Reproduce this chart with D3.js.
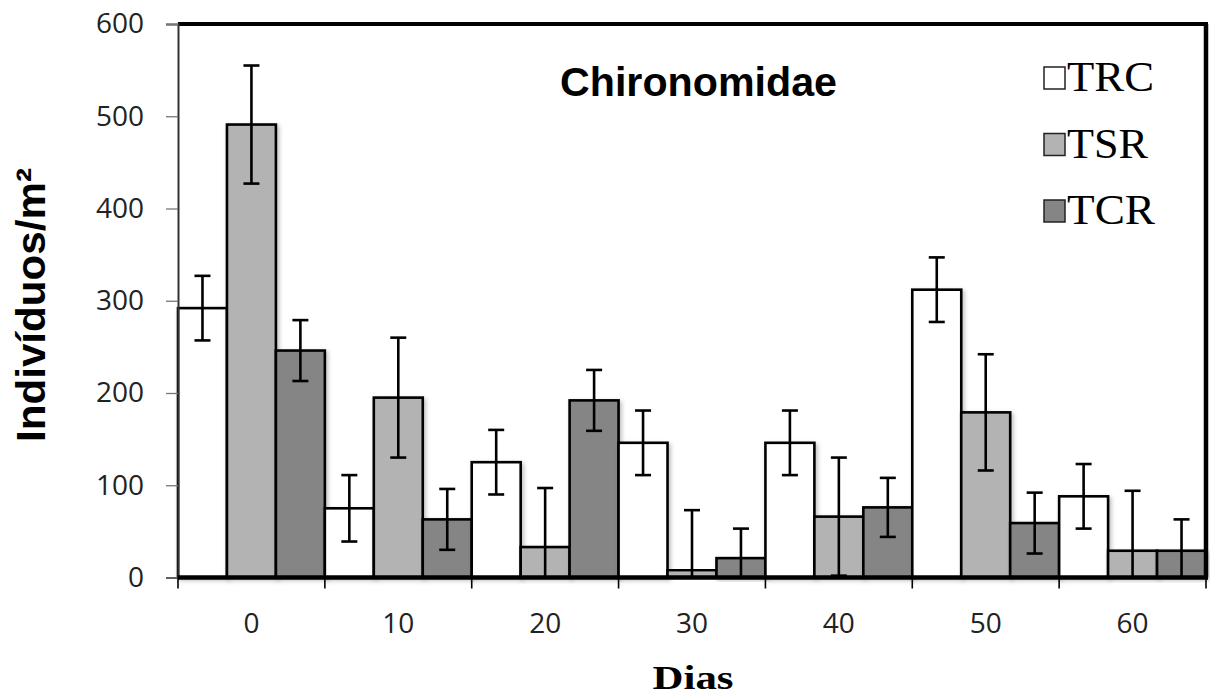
<!DOCTYPE html>
<html>
<head>
<meta charset="utf-8">
<script src="https://cdn.jsdelivr.net/npm/d3@7"></script>
<style>
  html, body { margin: 0; padding: 0; background: #fff; }
  svg { display: block; }
</style>
</head>
<body>
<svg id="chart" width="1210" height="695"></svg>
<script>
// ---- data ----
const categories = ["0", "10", "20", "30", "40", "50", "60"];
const seriesNames = ["TRC", "TSR", "TCR"];
const seriesColors = ["#ffffff", "#b3b3b3", "#858585"];
const valuesTRC = [292, 75, 125, 146, 146, 312, 88];
const valuesTSR = [491, 195, 33, 8, 66, 179, 29];
const valuesTCR = [246, 63, 192, 21, 76, 59, 29];
const errorsTRC = [35, 36, 35, 35, 35, 35, 35];
const errorsTSR = [64, 65, 64, 65, 64, 63, 65];
const errorsTCR = [33, 33, 33, 32, 32, 33, 34];
const yTicks = [0, 100, 200, 300, 400, 500, 600];
const titleText = "Chironomidae";
const yLabel = "Indivíduos/m²";
const xLabel = "Dias";

const seriesValues = [valuesTRC, valuesTSR, valuesTCR];
const seriesErrors = [errorsTRC, errorsTSR, errorsTCR];

// ---- layout ----
const plotL = 178, plotR = 1206, plotT = 24, plotB = 577.5;

const svg = d3.select("#chart");

const defs = svg.append("defs");
const f = defs.append("filter").attr("id", "shadow")
  .attr("x", "-10%").attr("y", "-10%").attr("width", "130%").attr("height", "130%");
f.append("feDropShadow").attr("dx", 2).attr("dy", 2).attr("stdDeviation", 2)
  .attr("flood-color", "#000").attr("flood-opacity", 0.25);

const x = d3.scaleBand().domain(categories).range([plotL, plotR]).padding(0);
const xs = d3.scaleBand().domain(seriesNames).range([0, x.bandwidth()]).padding(0);
const y = d3.scaleLinear().domain([0, 600]).range([plotB, plotT]);

// bars
const rows = [];
categories.forEach((c, i) => {
  seriesNames.forEach((s, j) => {
    rows.push({ cat: c, ser: s, v: seriesValues[j][i], e: seriesErrors[j][i], color: seriesColors[j] });
  });
});

const barG = svg.append("g");
barG.selectAll("rect").data(rows).join("rect")
  .attr("x", d => x(d.cat) + xs(d.ser))
  .attr("y", d => y(d.v))
  .attr("width", xs.bandwidth())
  .attr("height", d => y(0) - y(d.v))
  .attr("fill", d => d.color)
  .attr("stroke", "#000")
  .attr("stroke-width", 2.6)
  .attr("filter", "url(#shadow)");

// error bars
const errG = svg.append("g").attr("stroke", "#000").attr("stroke-width", 2.6);
const cx = d => x(d.cat) + xs(d.ser) + xs.bandwidth() / 2;
const capW = 8;
errG.selectAll("line.v").data(rows).join("line").attr("class", "v")
  .attr("x1", cx).attr("x2", cx)
  .attr("y1", d => y(d.v + d.e))
  .attr("y2", d => y(Math.max(0, d.v - d.e)));
errG.selectAll("line.t").data(rows).join("line").attr("class", "t")
  .attr("x1", d => cx(d) - capW).attr("x2", d => cx(d) + capW)
  .attr("y1", d => y(d.v + d.e)).attr("y2", d => y(d.v + d.e));
errG.selectAll("line.b").data(rows.filter(d => d.v - d.e > 0)).join("line").attr("class", "b")
  .attr("x1", d => cx(d) - capW).attr("x2", d => cx(d) + capW)
  .attr("y1", d => y(d.v - d.e)).attr("y2", d => y(d.v - d.e));

// frame: top and right thick borders
svg.append("line").attr("x1", plotL).attr("x2", plotR + 2).attr("y1", y(600)).attr("y2", y(600))
  .attr("stroke", "#000").attr("stroke-width", 4);
svg.append("line").attr("x1", plotR).attr("x2", plotR).attr("y1", y(600)).attr("y2", y(0))
  .attr("stroke", "#000").attr("stroke-width", 4.5);

// y axis
const yAxis = svg.append("g").attr("transform", `translate(${plotL},0)`)
  .call(d3.axisLeft(y).tickValues(yTicks).tickSize(12).tickPadding(22).tickFormat(d3.format("d")));
yAxis.select(".domain").attr("stroke", "#333").attr("stroke-width", 2);
yAxis.selectAll(".tick line").attr("stroke", "#777").attr("stroke-width", 1.3);
yAxis.selectAll(".tick text")
  .attr("font-family", "'Open Sans', sans-serif").attr("font-size", 28).attr("fill", "#222");

// x axis (labels at band centres)
const xAxis = svg.append("g").attr("transform", `translate(0,${plotB})`)
  .call(d3.axisBottom(x).tickSize(0).tickPadding(35.5));
xAxis.select(".domain").remove();
xAxis.selectAll(".tick text")
  .attr("font-family", "'Open Sans', sans-serif").attr("font-size", 28).attr("fill", "#222");

// x axis line and boundary ticks
svg.append("line").attr("x1", plotL).attr("x2", plotR + 2).attr("y1", plotB).attr("y2", plotB)
  .attr("stroke", "#000").attr("stroke-width", 4.5);
const bounds = categories.map(c => x(c)).concat([x(categories[categories.length - 1]) + x.bandwidth()]);
svg.append("g").selectAll("line").data(bounds).join("line")
  .attr("x1", d => d).attr("x2", d => d)
  .attr("y1", plotB).attr("y2", plotB + 11)
  .attr("stroke", "#000").attr("stroke-width", 1.6);

// title
svg.append("text").attr("x", 698.5).attr("y", 96).attr("text-anchor", "middle")
  .attr("font-family", "'Liberation Sans', Arial, sans-serif").attr("font-weight", "bold")
  .attr("font-size", 40).attr("textLength", 277).attr("lengthAdjust", "spacingAndGlyphs")
  .text(titleText);

// y label
svg.append("text").attr("transform", "translate(45,305) rotate(-90)").attr("text-anchor", "middle")
  .attr("font-family", "'Liberation Sans', Arial, sans-serif").attr("font-weight", "bold")
  .attr("font-size", 40).attr("textLength", 274).attr("lengthAdjust", "spacingAndGlyphs")
  .text(yLabel);

// x label
svg.append("text").attr("x", 693).attr("y", 689).attr("text-anchor", "middle")
  .attr("font-family", "'Liberation Serif', 'Times New Roman', serif").attr("font-weight", "bold")
  .attr("font-size", 33).attr("textLength", 81).attr("lengthAdjust", "spacingAndGlyphs")
  .text(xLabel);

// legend
const legendY = [67, 133.5, 200];
const legendLen = [87, 81, 88];
const lg = svg.append("g");
seriesNames.forEach((s, j) => {
  lg.append("rect").attr("x", 1044).attr("y", legendY[j]).attr("width", 21).attr("height", 22)
    .attr("fill", seriesColors[j]).attr("stroke", "#222").attr("stroke-width", 1.5);
  lg.append("text").attr("x", 1067).attr("y", legendY[j] + 24)
    .attr("font-family", "'Liberation Serif', 'Times New Roman', serif")
    .attr("font-size", 42).attr("textLength", legendLen[j]).attr("lengthAdjust", "spacingAndGlyphs")
    .text(s);
});
</script>
</body>
</html>
